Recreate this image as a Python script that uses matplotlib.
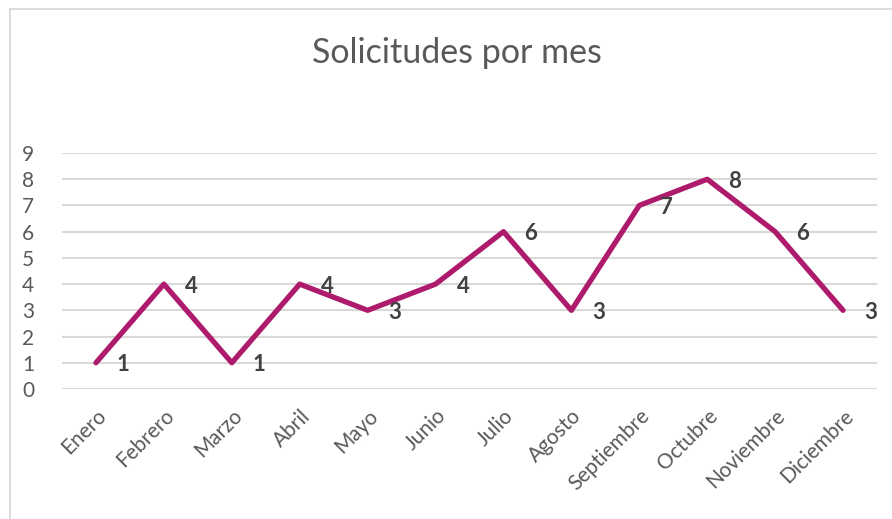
import matplotlib
matplotlib.use("Agg")
import matplotlib.pyplot as plt
from matplotlib.patches import Rectangle

# datos
meses = ['Enero', 'Febrero', 'Marzo', 'Abril', 'Mayo', 'Junio', 'Julio',
         'Agosto', 'Septiembre', 'Octubre', 'Noviembre', 'Diciembre']
solicitudes = [1, 4, 1, 4, 3, 4, 6, 3, 7, 8, 6, 3]
yticks = list(range(0, 10))

plt.rcParams['font.family'] = ['Lato', 'DejaVu Sans']

fig = plt.figure(figsize=(8.92, 5.19), dpi=100)
ax = fig.add_axes([62/892, 1-389/519, (877-62)/892, (389-153)/519])

x = range(len(meses))
ax.plot(x, solicitudes, color='#AE1A6C', lw=3.8, solid_joinstyle='round',
        solid_capstyle='round', zorder=3)
for xi, v in zip(x, solicitudes):
    ax.annotate(str(v), (xi, v), xytext=(21, -2), textcoords='offset pixels',
                ha='left', va='center', fontsize=16, fontweight='bold',
                color='#404040', zorder=4)

ax.set_xlim(-0.5, len(meses) - 0.5)
ax.set_ylim(0, 9)
ax.set_yticks(yticks)
ax.set_xticks(list(x))
ax.set_xticklabels(meses, rotation=45, ha='right', rotation_mode='anchor')
ax.tick_params(axis='both', length=0, labelsize=15, labelcolor='#595959')
ax.tick_params(axis='y', pad=20)
ax.tick_params(axis='x', pad=12)
ax.grid(axis='y', color='#D9D9D9', lw=1.5)
ax.set_axisbelow(True)
for s in ax.spines.values():
    s.set_visible(False)

fig.text(457/892, 1-53/519, 'Solicitudes por mes', ha='center', va='center',
         fontsize=24.5, color='#595959')

# borde del area del grafico
fig.patches.append(Rectangle((10/892, -0.1), 1.0, 1-9/519+0.1,
                             transform=fig.transFigure, fill=False,
                             ec='#D9D9D9', lw=1.3))

fig.savefig('out.png', dpi=100)
